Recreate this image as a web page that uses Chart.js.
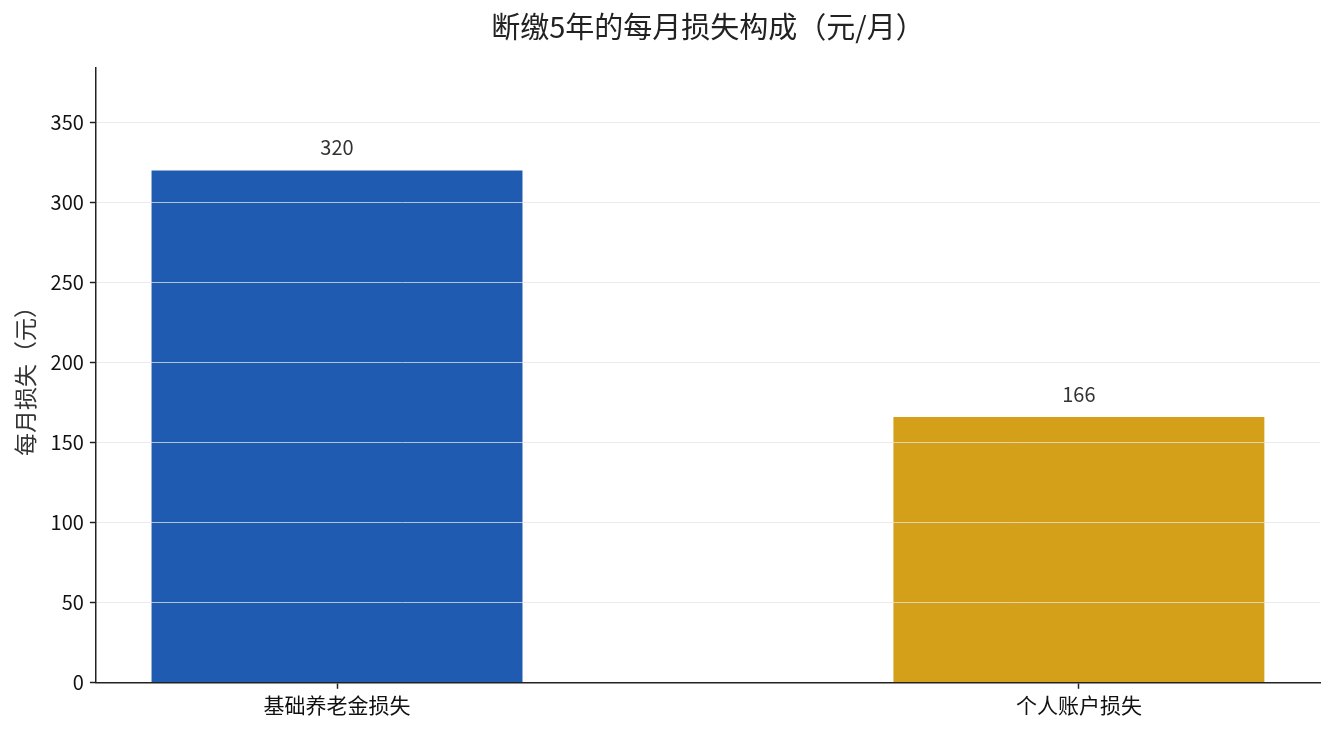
<!DOCTYPE html>
<html>
<head>
<meta charset="utf-8">
<script src="https://cdn.jsdelivr.net/npm/chart.js@4"></script>
<style>
html,body{margin:0;padding:0;background:#fff;}
#wrap{width:1335px;height:734px;position:relative;}
</style>
</head>
<body>
<div id="wrap"><canvas id="c"></canvas></div>
<script>
const categories = ['基础养老金损失', '个人账户损失'];
const values = [320, 166];
const barColors = ['#1f5bb0', '#d4a01a'];
const titleText = '断缴5年的每月损失构成（元/月）';
const yAxisTitle = '每月损失（元）';
const yMax = 384;
const yStep = 50;

const FONT = '"Noto Sans CJK SC", "Noto Sans", sans-serif';

const valueLabels = {
  id: 'valueLabels',
  afterDatasetsDraw(chart) {
    const ctx = chart.ctx;
    const meta = chart.getDatasetMeta(0);
    ctx.save();
    ctx.fillStyle = '#333';
    ctx.font = '20px ' + FONT;
    ctx.textAlign = 'center';
    ctx.textBaseline = 'bottom';
    meta.data.forEach((bar, i) => {
      ctx.fillText(String(values[i]), bar.x, bar.y - 13);
    });
    ctx.restore();
  }
};

// Title centered over the plot area (like an axes title)
const axesTitle = {
  id: 'axesTitle',
  afterDraw(chart) {
    const ctx = chart.ctx;
    const a = chart.chartArea;
    ctx.save();
    ctx.fillStyle = '#222';
    ctx.font = '29px ' + FONT;
    ctx.textAlign = 'center';
    ctx.textBaseline = 'middle';
    ctx.fillText(titleText, (a.left + a.right) / 2, 27);
    ctx.restore();
  }
};

new Chart(document.getElementById('c'), {
  type: 'bar',
  data: {
    datasets: [{
      data: values.map((v, i) => ({ x: i, y: v })),
      backgroundColor: barColors,
      borderWidth: 0,
      barPercentage: 0.5,
      categoryPercentage: 1.0
    }]
  },
  options: {
    responsive: true,
    maintainAspectRatio: false,
    animation: false,
    layout: { padding: { left: 11, right: 15, top: 68, bottom: 12 } },
    plugins: {
      legend: { display: false },
      tooltip: { enabled: false },
      title: { display: false }
    },
    scales: {
      x: {
        type: 'linear',
        min: -0.325,
        max: 1.325,
        offset: false,
        afterBuildTicks(scale) {
          scale.ticks = categories.map((_, i) => ({ value: i }));
        },
        ticks: {
          autoSkip: false,
          maxRotation: 0,
          color: '#111',
          font: { family: FONT, size: 21 },
          padding: 4,
          callback: (v) => categories[v]
        },
        grid: {
          offset: false,
          drawOnChartArea: false,
          drawTicks: true,
          tickLength: 6,
          tickColor: '#222',
          tickWidth: 1.5
        },
        border: { display: true, color: '#222', width: 1.5, z: 2 }
      },
      y: {
        min: 0,
        max: yMax,
        afterBuildTicks(scale) {
          const t = [];
          for (let v = 0; v <= yMax; v += yStep) t.push({ value: v });
          scale.ticks = t;
        },
        ticks: {
          color: '#111',
          font: { family: FONT, size: 20 },
          padding: 6
        },
        grid: {
          z: 1,
          color: (c) => (c.tick && c.tick.value === 0) ? 'rgba(0,0,0,0)' : 'rgba(228,228,228,0.75)',
          lineWidth: 1,
          drawTicks: true,
          tickLength: 6,
          tickColor: '#222',
          tickWidth: 1.5
        },
        border: { display: true, color: '#222', width: 1.5, z: 2 },
        title: {
          display: true,
          text: yAxisTitle,
          color: '#333',
          font: { family: FONT, size: 23 },
          padding: { top: 0, bottom: 6 }
        }
      }
    }
  },
  plugins: [valueLabels, axesTitle]
});
</script>
</body>
</html>
